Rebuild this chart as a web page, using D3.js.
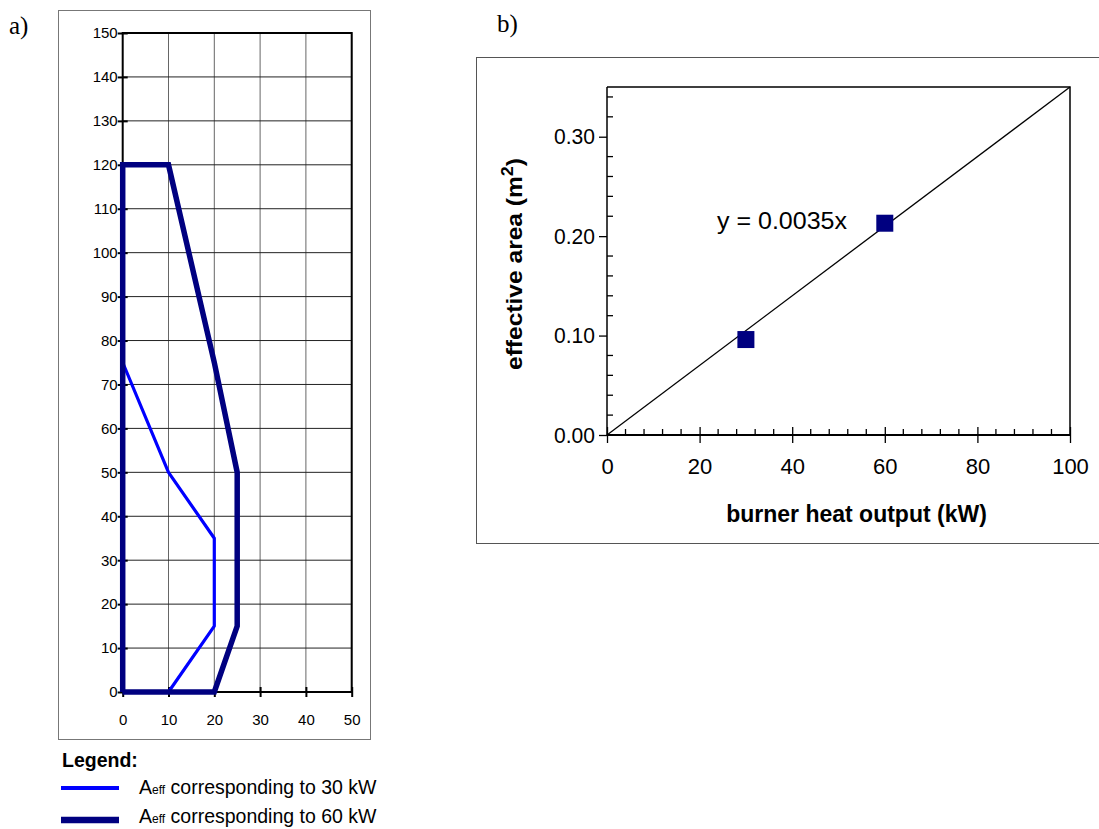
<!DOCTYPE html>
<meta charset="utf-8">
<body>
<script src="https://cdn.jsdelivr.net/npm/d3@7"></script>
<style>
    html, body {
        margin: 0;
        background: #fff;
    }
    text { font-family: Arial, "Liberation Sans", sans-serif; }
</style>
<script>
// panel a: effective area outlines (x = width, y = height)
var line30 = [[0, 0], [0, 75], [10, 50], [20, 35], [20, 15], [10, 0], [0, 0]],
    line60 = [[0, 0], [0, 120], [10, 120], [20, 75], [25, 50], [25, 15], [20, 0], [0, 0]],
    aTicksX = [0, 10, 20, 30, 40, 50],
    aTicksY = d3.range(0, 151, 10),
    legendLabels = ["30 kW", "60 kW"];

// panel b: effective area vs burner output
var outputKW = [30, 60],
    areaM2 = [0.096, 0.213],
    slope = 0.0035,
    bTicksX = [0, 20, 40, 60, 80, 100],
    bTicksY = [0, 0.1, 0.2, 0.3];

var svg = d3.select("body").append("svg")
    .attr("width", 1099)
    .attr("height", 829);

// ---------- panel a ----------
svg.append("text").attr("x", 9).attr("y", 34)
    .style("font-family", "'Liberation Serif', 'Times New Roman', serif")
    .style("font-size", "25px").text("a)");

svg.append("rect").attr("x", 58.5).attr("y", 10.5).attr("width", 312).attr("height", 729)
    .attr("fill", "none").attr("stroke", "#777");

var ax = d3.scaleLinear().domain([0, 50]).range([122.7, 351.7]),
    ay = d3.scaleLinear().domain([0, 150]).range([692, 33]);

var ga = svg.append("g");

ga.selectAll(".vg").data(aTicksX.slice(1)).enter().append("line")
    .attr("x1", ax).attr("x2", ax).attr("y1", ay(0)).attr("y2", ay(150))
    .attr("stroke", "#666").attr("stroke-width", 1);
ga.selectAll(".hg").data(aTicksY.slice(1)).enter().append("line")
    .attr("y1", ay).attr("y2", ay).attr("x1", ax(0)).attr("x2", ax(50))
    .attr("stroke", "#222").attr("stroke-width", 1);

// frame
ga.append("path")
    .attr("d", "M" + [ax(0), ay(0)] + "L" + [ax(0), ay(150)] + "L" + [ax(50), ay(150)] +
        "L" + [ax(50), ay(0)] + "Z")
    .attr("fill", "none").attr("stroke", "#000").attr("stroke-width", 2);

ga.append("g").attr("transform", "translate(0," + ay(0) + ")")
    .call(d3.axisBottom(ax).tickValues(aTicksX).tickSize(5).tickPadding(17))
    .call(function(g) {
        g.select(".domain").remove();
        g.selectAll(".tick line").attr("y1", -5).attr("stroke-width", 2);
        g.selectAll("text").style("font-size", "15px").style("font-family", "Arial, 'Liberation Sans'");
    });

ga.append("g").attr("transform", "translate(" + ax(0) + ",0)")
    .call(d3.axisLeft(ay).tickValues(aTicksY).tickSize(5).tickPadding(0))
    .call(function(g) {
        g.select(".domain").remove();
        g.selectAll(".tick line").attr("x1", 5).attr("stroke-width", 2);
        g.selectAll("text").style("font-size", "15px").style("font-family", "Arial, 'Liberation Sans'");
    });

var aline = d3.line().x(function(d) { return ax(d[0]); }).y(function(d) { return ay(d[1]); });

ga.append("path").attr("d", aline(line30))
    .attr("fill", "none").attr("stroke", "#0000ff").attr("stroke-width", 3.2)
    .attr("stroke-linejoin", "round");
ga.append("path").attr("d", aline(line60))
    .attr("fill", "none").attr("stroke", "#000080").attr("stroke-width", 5.5)
    .attr("stroke-linejoin", "miter");

// legend
var lg = svg.append("g");
lg.append("text").attr("x", 62).attr("y", 767)
    .style("font-size", "19.5px").style("font-weight", "bold").text("Legend:");

var items = lg.selectAll(".item").data(legendLabels).enter().append("g")
    .attr("transform", function(d, i) { return "translate(0," + (788 + i * 32) + ")"; });
items.append("line").attr("x1", 61).attr("x2", 119).attr("y1", 0).attr("y2", 0)
    .attr("stroke", function(d, i) { return i ? "#000080" : "#0000ff"; })
    .attr("stroke-width", function(d, i) { return i ? 6.5 : 4; });
var lt = items.append("text").attr("x", 139).attr("y", function(d, i) { return i ? 3 : 6; })
    .style("font-size", "19.5px");
lt.append("tspan").text("A");
lt.append("tspan").style("font-size", "12px").text("eff");
lt.append("tspan").text(function(d) { return " corresponding to " + d; });

// ---------- panel b ----------
svg.append("text").attr("x", 497).attr("y", 32)
    .style("font-family", "'Liberation Serif', 'Times New Roman', serif")
    .style("font-size", "25px").text("b)");

svg.append("rect").attr("x", 476.5).attr("y", 57.5).attr("width", 640).attr("height", 486)
    .attr("fill", "none").attr("stroke", "#555");

var bx = d3.scaleLinear().domain([0, 100]).range([607, 1070]),
    by = d3.scaleLinear().domain([0, 0.35]).range([435, 87]);

var gb = svg.append("g");

gb.append("path")
    .attr("d", "M" + [bx(0), by(0.35)] + "L" + [bx(100), by(0.35)] + "L" + [bx(100), by(0)])
    .attr("fill", "none").attr("stroke", "#000").attr("stroke-width", 1.5);

// minor ticks
gb.selectAll(".mx").data(d3.range(4, 100, 4).filter(function(v) { return v % 20; }))
    .enter().append("line")
    .attr("x1", bx).attr("x2", bx).attr("y1", by(0)).attr("y2", by(0) - 6)
    .attr("stroke", "#000").attr("stroke-width", 1.3);
gb.selectAll(".my").data(d3.range(1, 18).filter(function(v) { return v % 5; }).map(function(v) { return v * 0.02; }))
    .enter().append("line")
    .attr("y1", by).attr("y2", by).attr("x1", bx(0)).attr("x2", bx(0) + 6)
    .attr("stroke", "#000").attr("stroke-width", 1.3);

gb.append("g").attr("transform", "translate(0," + by(0) + ")")
    .call(d3.axisBottom(bx).tickValues(bTicksX).tickSize(8).tickPadding(15))
    .call(function(g) {
        g.select(".domain").attr("stroke-width", 2).attr("d", "M" + bx(0) + ",0H" + bx(100));
        g.selectAll(".tick line").attr("y1", -8).attr("stroke-width", 1.3);
        g.selectAll("text").style("font-size", "22px").style("font-family", "Arial, 'Liberation Sans'");
    });

gb.append("g").attr("transform", "translate(" + bx(0) + ",0)")
    .call(d3.axisLeft(by).tickValues(bTicksY).tickFormat(d3.format(".2f")).tickSize(8).tickPadding(4))
    .call(function(g) {
        g.select(".domain").attr("stroke-width", 1.5).attr("d", "M0," + by(0) + "V" + by(0.35));
        g.selectAll(".tick line").attr("stroke-width", 1.3);
        g.selectAll("text").style("font-size", "22px").style("font-family", "Arial, 'Liberation Sans'")
            .attr("textLength", 41).attr("lengthAdjust", "spacingAndGlyphs");
    });

// trend line
gb.append("line")
    .attr("x1", bx(0)).attr("y1", by(0))
    .attr("x2", bx(100)).attr("y2", by(slope * 100))
    .attr("stroke", "#000").attr("stroke-width", 1.3);

gb.selectAll(".pt").data(outputKW).enter().append("rect")
    .attr("x", function(d) { return bx(d) - 8.5; })
    .attr("y", function(d, i) { return by(areaM2[i]) - 8.5; })
    .attr("width", 17).attr("height", 17)
    .attr("fill", "#000080");

gb.append("text").attr("x", 717).attr("y", 229)
    .style("font-size", "24px")
    .attr("textLength", 130).attr("lengthAdjust", "spacingAndGlyphs")
    .text("y = " + slope + "x");

gb.append("text").attr("x", (bx(0) + bx(100)) / 2 + 18).attr("y", 522)
    .attr("text-anchor", "middle")
    .style("font-size", "23px").style("font-weight", "bold")
    .text("burner heat output (kW)");

var yt = gb.append("text")
    .attr("transform", "translate(522," + 264 + ") rotate(-90)")
    .attr("text-anchor", "middle")
    .attr("textLength", 212).attr("lengthAdjust", "spacingAndGlyphs")
    .style("font-size", "22px").style("font-weight", "bold");
yt.append("tspan").text("effective area (m");
yt.append("tspan").attr("dy", -9).style("font-size", "16px").text("2");
yt.append("tspan").attr("dy", 9).text(")");
</script>
